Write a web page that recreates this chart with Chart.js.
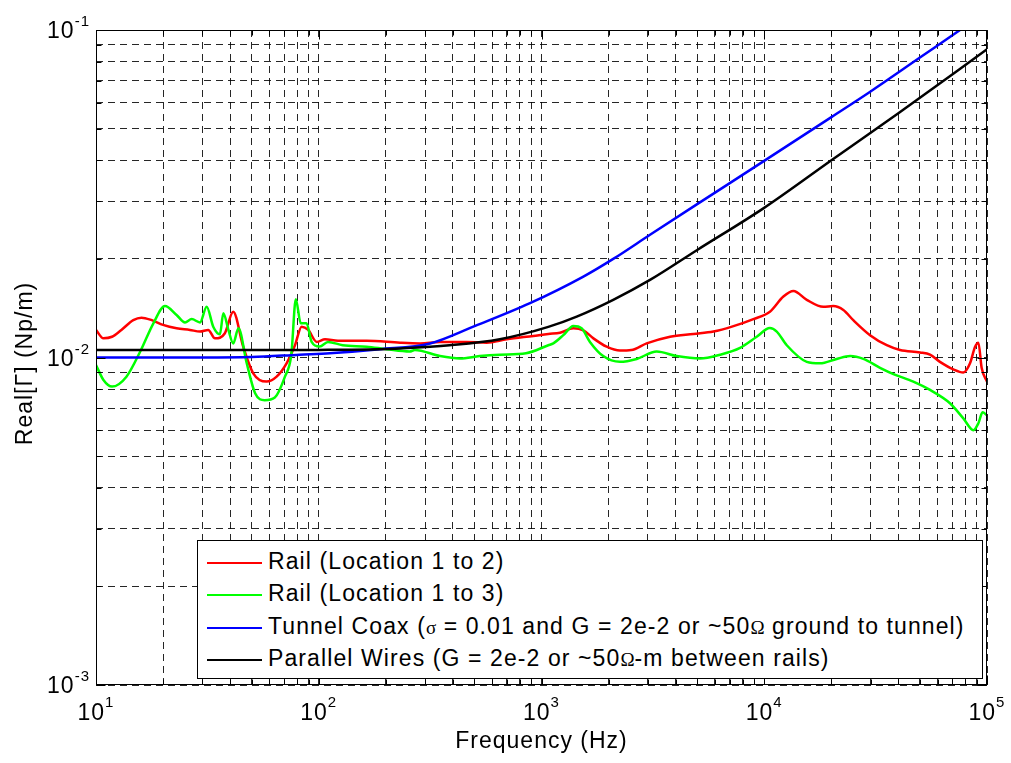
<!DOCTYPE html>
<html>
<head>
<meta charset="utf-8">
<script src="https://cdn.jsdelivr.net/npm/chart.js@4.4.1/dist/chart.umd.min.js"></script>
<style>
body{margin:0;background:#fff;}
#wrap{position:relative;width:1011px;height:763px;}
#legend{position:absolute;left:197px;top:540px;width:784px;height:137px;border:1px solid #000;background:#fff;
  font-family:"Liberation Sans",Arial,sans-serif;font-size:23px;letter-spacing:1.1px;color:#000;}
.row{position:absolute;left:0;height:32px;line-height:32px;white-space:nowrap;}
.row i{display:inline-block;width:55px;height:2px;vertical-align:middle;margin:0 6px 0 9px;}
.sym{font-family:"Liberation Serif",serif;font-size:19px;letter-spacing:0;}
</style>
</head>
<body>
<div id="wrap">
  <canvas id="chart" width="1011" height="763"></canvas>
  <div id="legend">
    <div class="row" style="top:4px"><i style="background:#ff0000"></i>Rail (Location 1 to 2)</div>
    <div class="row" style="top:36px"><i style="background:#00ff00"></i>Rail (Location 1 to 3)</div>
    <div class="row" style="top:69px"><i style="background:#0000ff"></i>Tunnel Coax (<span class="sym">σ</span> = 0.01 and G = 2e-2 or ~50<span class="sym">Ω</span> ground to tunnel)</div>
    <div class="row" style="top:101px"><i style="background:#000"></i>Parallel Wires (G = 2e-2 or ~50<span class="sym">Ω</span>-m between rails)</div>
  </div>
</div>
<script>
// axis ticks
const xMajor = [10, 100, 1000, 10000, 100000];
const xExp = ["1", "2", "3", "4", "5"];
const yMajor = [0.001, 0.01, 0.1];
const yExp = ["-3", "-2", "-1"];

// Rail (Location 1 to 2)
const redF = [10, 10.8, 11.8, 13, 14.7, 16, 17.8, 20, 23, 26.4, 29.3, 31.9, 34.2, 37.9, 41.3, 45.8, 50.8, 58.3, 64.7, 71.7,
  78.2, 83.8, 89.7, 97.9, 106.7, 122, 164, 232, 285, 350, 461, 567, 698, 919, 1073, 1211, 1390, 1542, 1710, 1961,
  2250, 2530, 2965, 3777, 4810, 5915, 7275, 8940, 10600, 12190, 13520, 15520, 18410, 20400, 22650, 25100, 29850, 35480, 40700, 50000,
  55500, 61500, 70600, 78300, 83900, 88400, 91500, 94600, 100000];
const redV = [0.01214, 0.01144, 0.01157, 0.01214, 0.0130, 0.01323, 0.0130, 0.01258, 0.01228, 0.01214, 0.0120, 0.01214, 0.01144, 0.01186, 0.0138, 0.01079, 0.00895, 0.00844, 0.00874, 0.0096,
  0.0109, 0.01242, 0.01214, 0.01116, 0.01137, 0.01125, 0.01125, 0.01109, 0.01104, 0.01116, 0.01116, 0.0111, 0.01137, 0.01164, 0.0118, 0.0119, 0.01228, 0.0121, 0.01144, 0.01079,
  0.0105, 0.01054, 0.01104, 0.01157, 0.0118, 0.0120, 0.01247, 0.0131, 0.0138, 0.01535, 0.01596, 0.0150, 0.01428, 0.01436, 0.01397, 0.0130, 0.0117, 0.0109, 0.01054, 0.01036,
  0.0102, 0.0097, 0.0092, 0.0090, 0.0096, 0.01079, 0.0111, 0.0093, 0.00844];

// Rail (Location 1 to 3)
const greenF = [10, 10.8, 11.8, 13.7, 15.8, 18.1, 20.4, 23, 25.1, 26.9, 29.3, 31.4, 33.6, 36, 37.3, 39.3, 41.3, 43.6, 47.5, 51.8,
  57.2, 63.5, 70.5, 75.3, 78.9, 83, 88.1, 92.9, 101, 110, 128, 164, 202, 256, 270, 350, 430, 528, 650, 852,
  1073, 1130, 1253, 1390, 1513, 1650, 1893, 2250, 2675, 3290, 4046, 5150, 6340, 7790, 9250, 10600, 11380, 12620, 15520, 17800,
  21150, 24300, 27860, 33100, 38000, 46700, 55500, 68200, 78300, 86900, 91500, 95500, 100000];
const greenV = [0.00948, 0.00854, 0.00815, 0.00874, 0.01043, 0.01272, 0.01436, 0.01349, 0.0128, 0.0131, 0.0128, 0.01428, 0.01242, 0.01177, 0.01365, 0.01214, 0.01104, 0.01228, 0.0096, 0.00778,
  0.00741, 0.00755, 0.00874, 0.0102, 0.01507, 0.01272, 0.01272, 0.01116, 0.0108, 0.01116, 0.0109, 0.01079, 0.0106, 0.01043, 0.01054, 0.0101, 0.00993, 0.0101, 0.0102, 0.0103,
  0.0109, 0.01104, 0.0117, 0.01247, 0.01228, 0.01116, 0.0101, 0.0097, 0.0099, 0.01043, 0.0101, 0.00993, 0.0102, 0.0107, 0.01157, 0.0123, 0.0120, 0.0109, 0.0097, 0.0096,
  0.0099, 0.0101, 0.0099, 0.0093, 0.0089, 0.00844, 0.00796, 0.00725, 0.00652, 0.0060, 0.0063, 0.0068, 0.00666];

// Tunnel Coax
const blueF = [10, 30, 50, 82, 112, 188, 316, 494, 888, 1542, 2099, 3070, 5000, 9910, 20100, 29900, 50000, 75700, 100000];
const blueV = [0.0100, 0.0100, 0.01003, 0.0102, 0.0103, 0.0106, 0.01104, 0.01242, 0.01465, 0.01766, 0.0200, 0.0237, 0.0294, 0.0397, 0.0543, 0.0648, 0.0824, 0.1, 0.114];

// Parallel Wires
const blackF = [10, 50, 100, 188, 232, 386, 650, 1073, 1439, 2099, 3070, 5000, 9910, 20100, 40000, 100000];
const blackV = [0.01054, 0.01054, 0.01055, 0.0106, 0.01066, 0.0109, 0.01137, 0.0124, 0.01333, 0.0150, 0.01725, 0.0213, 0.02854, 0.0401, 0.0557, 0.0873];

const FONT = '"Liberation Sans", Arial, sans-serif';

function pts(f, v){ return f.map((x, i) => ({x: x, y: v[i]})); }
function withMinor(major){
  const out = [];
  major.forEach((m, i) => {
    out.push(m);
    if(i < major.length - 1) for(let k = 2; k <= 9; k++) out.push(m * k);
  });
  return out;
}
const xAll = withMinor(xMajor);
const yAll = withMinor(yMajor);

function line(label, f, v, color, order){
  return {label, data: pts(f, v), borderColor: color, backgroundColor: color, borderWidth: 2.5,
    pointRadius: 0, cubicInterpolationMode: 'monotone', fill: false, order};
}

// frame, inward ticks, 10^n labels, axis titles
const axisDecor = {
  id: 'axisDecor',
  afterDraw(chart){
    const {ctx, chartArea: a, scales: {x, y}} = chart;
    const L = Math.round(a.left) + 0.5, R = Math.round(a.right) - 0.5;
    const T = Math.round(a.top) + 0.5, B = Math.round(a.bottom) - 0.5;
    ctx.save();
    ctx.setLineDash([]);
    ctx.strokeStyle = '#000';
    ctx.lineWidth = 1;
    ctx.strokeRect(L, T, R - L, B - T);
    ctx.beginPath();
    xAll.forEach(v => {
      const px = Math.round(x.getPixelForValue(v)) + 0.5;
      const len = xMajor.includes(v) ? 9 : 5;
      ctx.moveTo(px, B); ctx.lineTo(px, B - len);
      ctx.moveTo(px, T); ctx.lineTo(px, T + len);
    });
    yAll.forEach(v => {
      const py = Math.round(y.getPixelForValue(v)) + 0.5;
      const len = yMajor.some(m => Math.abs(m - v) < 1e-12) ? 9 : 5;
      ctx.moveTo(L, py); ctx.lineTo(L + len, py);
      ctx.moveTo(R, py); ctx.lineTo(R - len, py);
    });
    ctx.stroke();

    ctx.fillStyle = '#000';
    ctx.letterSpacing = '1px';
    ctx.textBaseline = 'alphabetic';
    ctx.textAlign = 'left';
    const big = '23px ' + FONT, small = '15px ' + FONT;
    xMajor.forEach((v, i) => {
      const px = x.getPixelForValue(v);
      ctx.font = big; const bw = ctx.measureText('10').width;
      ctx.font = small; const ew = ctx.measureText(xExp[i]).width;
      const x0 = px - (bw + ew) / 2;
      ctx.font = big; ctx.fillText('10', x0, 720);
      ctx.font = small; ctx.fillText(xExp[i], x0 + bw, 707);
    });
    yMajor.forEach((v, i) => {
      const py = y.getPixelForValue(v);
      ctx.font = small; const ew = ctx.measureText(yExp[i]).width;
      ctx.font = big; const bw = ctx.measureText('10').width;
      const xr = 90;
      ctx.fillText('10', xr - ew - bw, py + 8);
      ctx.font = small; ctx.fillText(yExp[i], xr - ew, py - 4);
    });

    ctx.font = big;
    ctx.textAlign = 'center';
    ctx.fillText('Frequency (Hz)', (a.left + a.right) / 2, 748);
    ctx.translate(32, (a.top + a.bottom) / 2 + 6);
    ctx.rotate(-Math.PI / 2);
    ctx.fillText('Real[\u0393] (Np/m)', 0, 0);
    ctx.restore();
  }
};

const gridOpts = {color: 'rgba(0,0,0,0.85)', lineWidth: 1, drawTicks: false};

new Chart(document.getElementById('chart').getContext('2d'), {
  type: 'line',
  data: {
    datasets: [
      line('Rail (Location 1 to 2)', redF, redV, '#ff0000', 4),
      line('Rail (Location 1 to 3)', greenF, greenV, '#00ff00', 3),
      line('Tunnel Coax', blueF, blueV, '#0000ff', 2),
      line('Parallel Wires', blackF, blackV, '#000000', 1)
    ]
  },
  options: {
    responsive: false,
    animation: false,
    layout: {padding: {left: 96, top: 30, right: 24, bottom: 78}},
    plugins: {legend: {display: false}, tooltip: {enabled: false}},
    scales: {
      x: {
        type: 'logarithmic', min: 10, max: 100000,
        afterBuildTicks: s => { s.ticks = xAll.map(v => ({value: v})); },
        ticks: {display: false},
        grid: gridOpts,
        border: {display: false, dash: [7, 5]}
      },
      y: {
        type: 'logarithmic', min: 0.001, max: 0.1,
        afterBuildTicks: s => { s.ticks = yAll.map(v => ({value: v})); },
        ticks: {display: false},
        grid: gridOpts,
        border: {display: false, dash: [7, 5]}
      }
    }
  },
  plugins: [axisDecor]
});
</script>
</body>
</html>
